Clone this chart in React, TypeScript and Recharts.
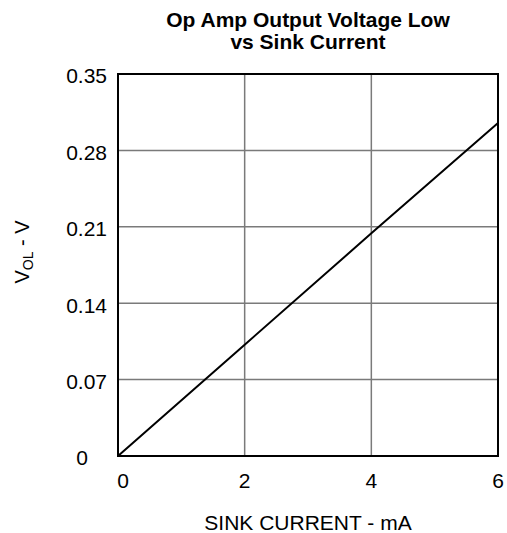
import React from 'react';
import { LineChart, Line, XAxis, YAxis, CartesianGrid, ReferenceArea } from 'recharts';

// sink current (mA) vs output voltage low (V)
const sinkCurrent = [0, 2, 4, 6];
const vol = [0, 0.102, 0.204, 0.305];
const xTicks = [0, 2, 4, 6];
const yTicks = [0, 0.07, 0.14, 0.21, 0.28, 0.35];

const data = sinkCurrent.map((x, i) => ({ x, v: vol[i] }));

const FONT = '"Liberation Sans", Arial, sans-serif';

const XTick = (props: any) => {
  const { x, y, payload } = props;
  const dx = payload.value === 0 ? 5 : 0;
  return (
    <text x={x + dx} y={y} dy="0.71em" textAnchor="middle" fontSize={21} fill="#000" fontFamily={FONT}>
      {payload.value}
    </text>
  );
};

const YTick = (props: any) => {
  const { x, y, payload } = props;
  const isZero = payload.value === 0;
  return (
    <text x={isZero ? x - 19 : x} y={y + 2} dy="0.355em" textAnchor="end" fontSize={21} fill="#000" fontFamily={FONT}>
      {isZero ? '0' : payload.value.toFixed(2)}
    </text>
  );
};

const YLabel = (props: any) => {
  const { viewBox } = props;
  const cy = viewBox.y + viewBox.height / 2 - 13;
  const cx = 29;
  return (
    <text x={cx} y={cy} transform={`rotate(-90 ${cx} ${cy})`} textAnchor="middle" fontSize={20} fill="#000" fontFamily={FONT}>
      V<tspan fontSize={14} dy={4}>OL</tspan>
      <tspan dy={-4}> - V</tspan>
    </text>
  );
};

export default function App() {
  return (
    <div style={{ position: 'absolute', left: 0, top: 0, width: 507, height: 533, background: '#fff' }}>
      <div
        style={{
          position: 'absolute',
          left: 108,
          width: 400,
          top: 9,
          textAlign: 'center',
          fontFamily: FONT,
          fontWeight: 'bold',
          fontSize: 21,
          lineHeight: '22px',
        }}
      >
        Op Amp Output Voltage Low
        <br />
        vs Sink Current
      </div>
      <LineChart width={507} height={533} data={data} margin={{ top: 74, right: 9, bottom: 0, left: 0 }}>
        <CartesianGrid stroke="#7a7a7a" strokeWidth={1.5} />
        <XAxis
          dataKey="x"
          type="number"
          domain={[0, 6]}
          ticks={xTicks}
          axisLine={false}
          tickLine={false}
          tickSize={0}
          tickMargin={17}
          tick={<XTick />}
          height={77}
          label={{ value: 'SINK CURRENT - mA', position: 'insideBottom', offset: 3, fontSize: 21, fill: '#000', fontFamily: FONT }}
        />
        <YAxis
          type="number"
          domain={[0, 0.35]}
          ticks={yTicks}
          axisLine={false}
          tickLine={false}
          tickSize={0}
          tickMargin={11}
          width={118}
          tick={<YTick />}
          label={<YLabel />}
        />
        <ReferenceArea x1={0} x2={6} y1={0} y2={0.35} fill="none" stroke="#000" strokeWidth={2} ifOverflow="visible" />
        <Line dataKey="v" type="linear" stroke="#000" strokeWidth={2} dot={false} isAnimationActive={false} />
      </LineChart>
    </div>
  );
}
